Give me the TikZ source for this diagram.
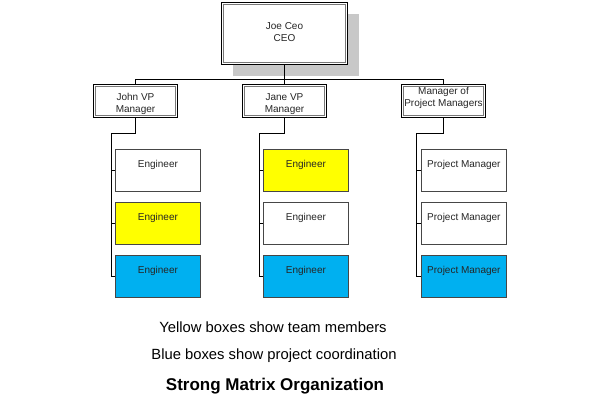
\documentclass[tikz,border=0pt]{standalone}
\usepackage{fontspec}
\setmainfont{Liberation Sans}
\usetikzlibrary{shadows,calc}
\definecolor{shadowc}{RGB}{200,200,200}
\definecolor{innerc}{RGB}{120,120,120}
\definecolor{childc}{RGB}{70,70,70}
\definecolor{yel}{RGB}{255,255,0}
\definecolor{blu}{RGB}{0,176,240}
\begin{document}
\begin{tikzpicture}[x=1pt,y=-1pt,
  mgr/.style={draw=black, line width=1pt, fill=white, anchor=north west, inner sep=0pt,
    minimum width=84pt, minimum height=33pt},
  ceobox/.style={mgr, minimum width=126pt, minimum height=62pt,
    drop shadow={shadow xshift=11pt, shadow yshift=-11pt, fill=shadowc, opacity=1}},
  inner/.style={draw=innerc, line width=1pt},
  child/.style={draw=childc, line width=0.8pt, fill=white, anchor=north west, inner sep=0pt,
    minimum width=85pt, minimum height=42pt},
  conn/.style={draw=black, line width=1pt},
  btxt/.style={font=\fontsize{10}{12}\selectfont, align=center, inner sep=0pt, text=black!85},
  ntxt/.style={font=\fontsize{14.8}{17}\selectfont, inner sep=0pt},
  ttxt/.style={font=\fontsize{17}{20}\selectfont\bfseries, inner sep=0pt}
]
\useasboundingbox (0,0) rectangle (600,400);

% CEO
\node[ceobox] (ceo) at (221,2) {};
\draw[inner] ([shift={(2.5,2.5)}]ceo.north west) rectangle ([shift={(-2.5,-2.5)}]ceo.south east);
\node[btxt] (ceot) at ([shift={(0,30)}]ceo.north) {Joe Ceo\\CEO};

% managers
\node[mgr] (john) at (93,84) {};
\node[mgr] (jane) at (242,84) {};
\node[mgr] (pm) at (401,84) {};
\foreach \n in {john,jane,pm}
  \draw[inner] ([shift={(2.5,2.5)}]\n.north west) rectangle ([shift={(-2.5,-2.5)}]\n.south east);
\node[btxt] (johnt) at ([shift={(0,20)}]john.north) {John VP\\Manager};
\node[btxt] (janet) at ([shift={(0,20)}]jane.north) {Jane VP\\Manager};
\node[btxt] (pmt) at ([shift={(0,13.5)}]pm.north) {Manager of\\Project Managers};

% children
\node[child] (a1) at (115,149) {};
\node[child, fill=yel] (a2) at (115,202) {};
\node[child, fill=blu] (a3) at (115,255) {};
\node[child, fill=yel] (b1) at (263,149) {};
\node[child] (b2) at (263,202) {};
\node[child, fill=blu] (b3) at (263,255) {};
\node[child] (c1) at (421,149) {};
\node[child] (c2) at (421,202) {};
\node[child, fill=blu] (c3) at (421,255) {};

\foreach \n in {a1,a2,a3,b1,b2,b3}
  \node[btxt] (\n t) at ([shift={(0,15.5)}]\n.north) {Engineer};
\foreach \n in {c1,c2,c3}
  \node[btxt] (\n t) at ([shift={(0,15.5)}]\n.north) {Project Manager};

% connectors
\draw[conn] (ceo.south) -- (jane.north);
\draw[conn] (john.north) -- ++(0,-5) -| (pm.north);
\draw[conn] (john.south) -- ++(0,15) -| ([xshift=-4pt]a3.west) -- (a3.west);
\draw[conn] (a1.west) -- ++(-4,0);
\draw[conn] (a2.west) -- ++(-4,0);
\draw[conn] (jane.south) -- ++(0,15) -| ([xshift=-4pt]b3.west) -- (b3.west);
\draw[conn] (b1.west) -- ++(-4,0);
\draw[conn] (b2.west) -- ++(-4,0);
\draw[conn] (pm.south) -- ++(0,15) -| ([xshift=-5pt]c3.west) -- (c3.west);
\draw[conn] (c1.west) -- ++(-5,0);
\draw[conn] (c2.west) -- ++(-5,0);

% captions
\node[ntxt] (cap1) at (273,327) {Yellow boxes show team members};
\node[ntxt] (cap2) at (274,356) {Blue boxes show project coordination};
\node[ttxt] (title) at (275,386) {Strong Matrix Organization};
\end{tikzpicture}
\end{document}
